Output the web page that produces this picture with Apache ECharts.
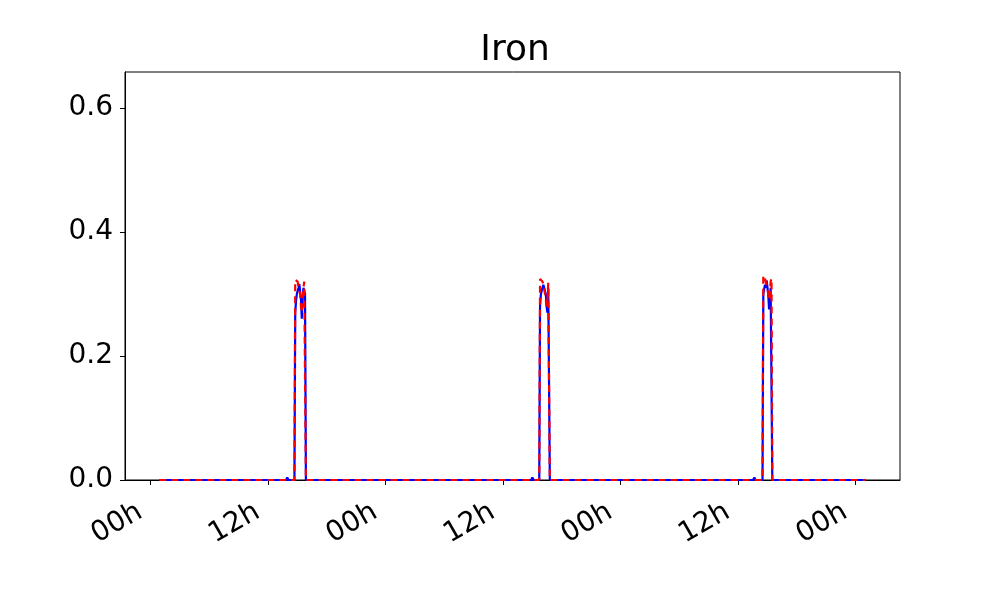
<!DOCTYPE html>
<html>
<head>
<meta charset="utf-8">
<script src="https://cdn.jsdelivr.net/npm/echarts@6/dist/echarts.min.js"></script>
<style>html,body{margin:0;padding:0;background:#fff}#chart{width:1000px;height:600px}</style>
</head>
<body>
<div id="chart"></div>
<script>
// time in hours from first midnight
const hours = [
  0.9,
  13.83, 13.97, 14.08,
  14.70, 14.78, 14.87, 14.95, 15.03, 15.12, 15.20, 15.28, 15.37, 15.45, 15.53, 15.62, 15.70, 15.78, 15.87,
  16.83, 16.98, 17.12,
  38.87, 39.00, 39.12,
  39.70, 39.78, 39.87, 39.95, 40.03, 40.12, 40.20, 40.28, 40.37, 40.45, 40.53, 40.62, 40.70, 40.78,
  61.53, 61.67, 61.78,
  62.50, 62.58, 62.67, 62.75, 62.83, 62.92, 63.00, 63.08, 63.17, 63.25, 63.33, 63.42, 63.50,
  73.05
];
const blueValues = [
  0,
  0, 0.004, 0,
  0, 0.27, 0.29, 0.30, 0.305, 0.31, 0.316, 0.315, 0.29, 0.26, 0.29, 0.31, 0.31, 0.30, 0,
  0, 0.003, 0,
  0, 0.004, 0,
  0, 0.28, 0.30, 0.305, 0.31, 0.315, 0.316, 0.315, 0.30, 0.28, 0.27, 0.31, 0.31, 0,
  0, 0.004, 0,
  0, 0.30, 0.30, 0.315, 0.31, 0.322, 0.32, 0.30, 0.275, 0.29, 0.31, 0.313, 0,
  0
];
const redValues = [
  0,
  0, 0, 0,
  0, 0.323, 0.324, 0.323, 0.32, 0.31, 0.31, 0.30, 0.28, 0.27, 0.29, 0.31, 0.32, 0.323, 0,
  0, 0, 0,
  0, 0, 0,
  0, 0.324, 0.325, 0.323, 0.32, 0.315, 0.31, 0.30, 0.29, 0.28, 0.29, 0.318, 0.318, 0,
  0, 0, 0,
  0, 0.33, 0.33, 0.325, 0.32, 0.315, 0.31, 0.30, 0.29, 0.30, 0.32, 0.325, 0,
  0
];
const xTicks = [0, 12, 24, 36, 48, 60, 72];
const yTicks = [0, 0.2, 0.4, 0.6];

const font = 'DejaVu Sans';
const chart = echarts.init(document.getElementById('chart'), null, {renderer: 'canvas'});
chart.setOption({
  animation: false,
  backgroundColor: '#fff',
  title: {
    text: 'Iron', left: 510, top: 28, textAlign: 'center',
    textStyle: {fontFamily: font, fontSize: 36, fontWeight: 'normal', color: '#000'}
  },
  grid: {left: 125, right: 100, top: 72, bottom: 120, show: true, borderColor: '#000', borderWidth: 1, backgroundColor: 'transparent'},
  xAxis: {
    type: 'value', min: -2.604, max: 76.54,
    splitLine: {show: false},
    axisLine: {show: true, onZero: false, lineStyle: {color: '#000', width: 1}},
    axisTick: {show: true, customValues: xTicks, length: 5, lineStyle: {color: '#000'}},
    axisLabel: {
      customValues: xTicks, rotate: 30, margin: 24, padding: [0, 12, 0, 0],
      fontFamily: font, fontSize: 28, color: '#000',
      formatter: v => (Math.round(v) % 24 === 0 ? '00h' : '12h')
    }
  },
  yAxis: {
    type: 'value', min: 0, max: 0.658,
    splitLine: {show: false},
    axisLine: {show: true, onZero: false, lineStyle: {color: '#000', width: 1}},
    axisTick: {show: true, customValues: yTicks, length: 5, lineStyle: {color: '#000'}},
    axisLabel: {
      customValues: yTicks,
      fontFamily: font, fontSize: 28, color: '#000', margin: 12,
      formatter: v => v.toFixed(1)
    }
  },
  series: [
    {
      name: 'blue', type: 'line', symbol: 'none',
      data: hours.map((h, i) => [h, blueValues[i]]),
      lineStyle: {color: '#0000ff', width: 2.2}
    },
    {
      name: 'red', type: 'line', symbol: 'none',
      data: hours.map((h, i) => [h, redValues[i]]),
      lineStyle: {color: '#ff0000', width: 2.2, type: [7, 5]}
    }
  ]
});
</script>
</body>
</html>
